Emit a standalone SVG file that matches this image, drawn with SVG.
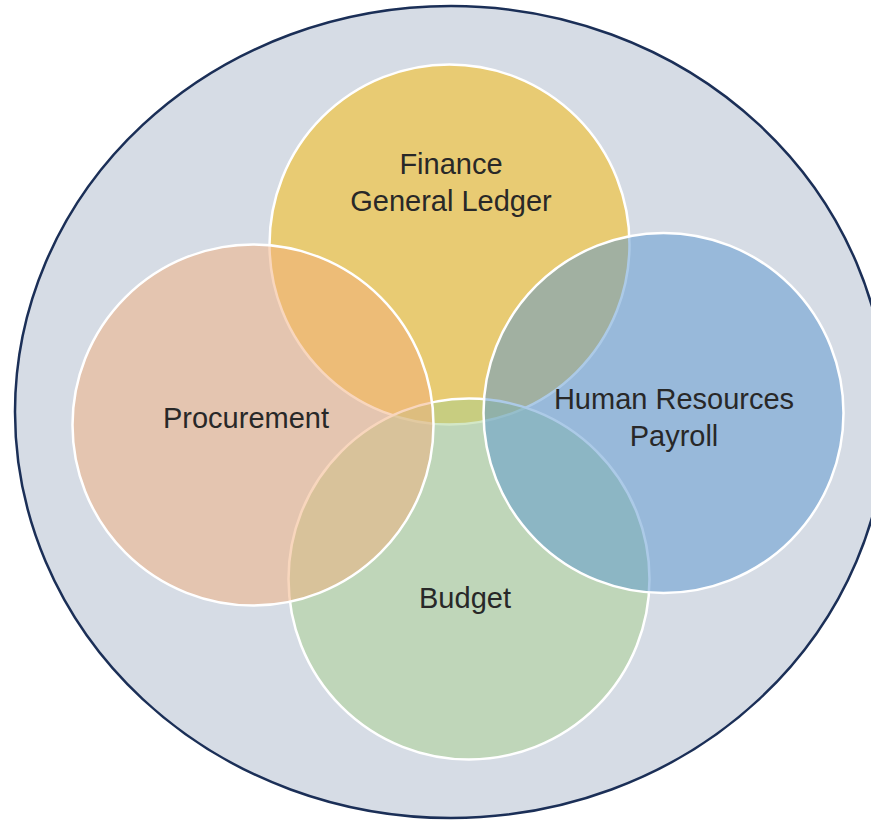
<svg xmlns="http://www.w3.org/2000/svg" width="871" height="820" viewBox="0 0 871 820">
<style>
.c{stroke:#ffffff;stroke-width:2.5}
.t{font-family:"Liberation Sans",Arial,sans-serif;font-size:29px;fill:#282828;text-anchor:middle}
</style>
<rect width="871" height="820" fill="#ffffff"/>
<g id="outer"><ellipse cx="451" cy="412" rx="436" ry="406" fill="#d6dce5" stroke="#1b2f57" stroke-width="2.5"/></g>
<g id="finance"><circle class="c" cx="449.5" cy="244.5" r="180" fill="rgb(250,186,1)" fill-opacity="0.5"/></g>
<g id="budget"><circle class="c" cx="469" cy="579" r="180.5" fill="rgb(168,208,141)" fill-opacity="0.5"/></g>
<g id="procurement"><circle class="c" cx="253" cy="425" r="180.5" fill="rgb(242,174,123)" fill-opacity="0.5"/></g>
<g id="hr"><circle class="c" cx="663.5" cy="413" r="180" fill="rgb(90,150,207)" fill-opacity="0.5"/></g>
<g id="labels">
<text class="t" x="451" y="174">Finance</text>
<text class="t" x="451" y="211">General Ledger</text>
<text class="t" x="246" y="428">Procurement</text>
<text class="t" x="674" y="409">Human Resources</text>
<text class="t" x="674" y="446">Payroll</text>
<text class="t" x="465" y="608">Budget</text>
</g>
</svg>
